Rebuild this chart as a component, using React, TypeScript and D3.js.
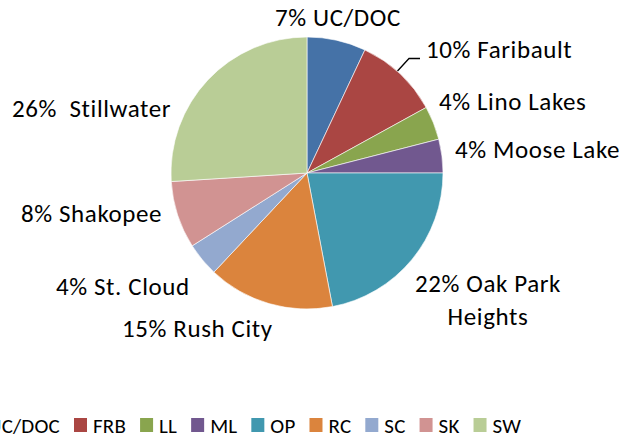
import React, { useRef, useEffect } from 'react';
import * as d3 from 'd3';

// slice order, clockwise from 12 o'clock
const codes = ['UC/DOC', 'FRB', 'LL', 'ML', 'OP', 'RC', 'SC', 'SK', 'SW'];
const shares = [7, 10, 4, 4, 22, 15, 4, 8, 26];
const labels = [
  ['7% UC/DOC'],
  ['10% Faribault'],
  ['4% Lino Lakes'],
  ['4% Moose Lake'],
  ['22% Oak Park', 'Heights'],
  ['15% Rush City'],
  ['4% St. Cloud'],
  ['8% Shakopee'],
  ['26%  Stillwater'],
];
const colors = ['#4572A7', '#AA4643', '#89A54E', '#71588F', '#4198AF', '#DB843D', '#93A9CF', '#D19392', '#B9CD96'];

// where each data label sits (x, baseline y, anchor)
const labelAt: [number, number, string][] = [
  [275, 26, 'start'],
  [426, 58, 'start'],
  [439, 110, 'start'],
  [455, 158, 'start'],
  [488, 292, 'middle'],
  [122, 337, 'start'],
  [56, 295, 'start'],
  [21, 222, 'start'],
  [12, 117, 'start'],
];

const FONT = 'Carlito, Lato, sans-serif';
const FS = 25;
const LS = 0.6;
const LEG_FS = 21;

const App = () => {
  const ref = useRef<SVGSVGElement>(null);

  useEffect(() => {
    const svg = d3.select(ref.current);
    svg.selectAll('*').remove();

    const cx = 307, cy = 173, r = 136;
    const g = svg.append('g').attr('transform', `translate(${cx},${cy})`);

    const pie = d3.pie<number>().sort(null).value(d => d);
    const arc = d3.arc<d3.PieArcDatum<number>>().innerRadius(0).outerRadius(r);

    g.selectAll('path')
      .data(pie(shares))
      .join('path')
      .attr('d', arc)
      .attr('fill', (d, i) => colors[i])
      .attr('stroke', '#fff')
      .attr('stroke-width', 0.6);

    // leader line for Faribault
    svg.append('path')
      .attr('d', 'M397.5,71L409,58.5L420,58.5')
      .attr('fill', 'none')
      .attr('stroke', '#000')
      .attr('stroke-width', 1.3);

    labels.forEach((lines, i) => {
      const [x, y, anchor] = labelAt[i];
      const t = svg.append('text')
        .attr('x', x).attr('y', y)
        .attr('text-anchor', anchor)
        .attr('font-family', FONT)
        .attr('font-size', FS)
        .attr('letter-spacing', LS)
        .style('white-space', 'pre')
        .attr('fill', '#000');
      lines.forEach((s, j) => {
        t.append('tspan').attr('x', x).attr('dy', j === 0 ? 0 : 33).text(s);
      });
    });

    // legend, laid out from measured text widths, anchored on the FRB swatch
    const legend = svg.append('g');
    const items = codes.map((c, i) => {
      const it = legend.append('g');
      it.append('rect').attr('width', 13).attr('height', 14).attr('y', 418).attr('fill', colors[i]);
      const tx = it.append('text')
        .attr('x', 19).attr('y', 433)
        .attr('font-family', FONT).attr('font-size', LEG_FS).attr('letter-spacing', 0.2).attr('fill', '#000')
        .text(c);
      const w = (tx.node() as SVGTextElement).getComputedTextLength();
      return { it, w };
    });
    const gap = 14;
    const xs: number[] = [];
    let acc = 0;
    items.forEach(({ w }) => { xs.push(acc); acc += 19 + w + gap; });
    const shift = 74 - xs[1];
    items.forEach(({ it }, i) => it.attr('transform', `translate(${xs[i] + shift},0)`));
  }, []);

  return (
    <svg ref={ref} width={640} height={439} style={{ position: 'absolute', left: 0, top: 0 }} />
  );
};

export default App;
